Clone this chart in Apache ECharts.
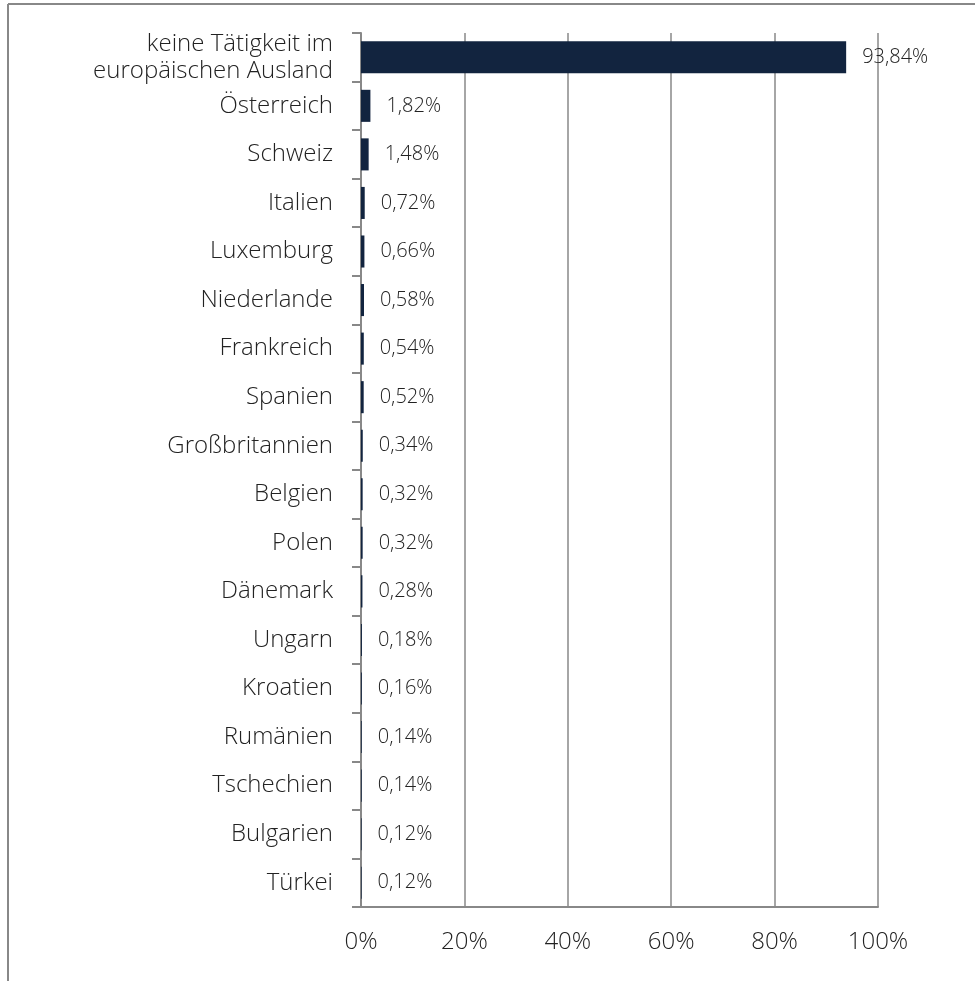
<!DOCTYPE html>
<html>
<head>
<meta charset="utf-8">
<script src="https://cdn.jsdelivr.net/npm/echarts@6/dist/echarts.min.js"></script>
<style>html,body{margin:0;padding:0;background:#fff}#c{width:975px;height:981px}</style>
</head>
<body>
<div id="c"></div>
<script>
const categories = ["keine Tätigkeit im\neuropäischen Ausland","Österreich","Schweiz","Italien","Luxemburg","Niederlande","Frankreich","Spanien","Großbritannien","Belgien","Polen","Dänemark","Ungarn","Kroatien","Rumänien","Tschechien","Bulgarien","Türkei"];
const values = [93.84,1.82,1.48,0.72,0.66,0.58,0.54,0.52,0.34,0.32,0.32,0.28,0.18,0.16,0.14,0.14,0.12,0.12];
const xTicks = [0,20,40,60,80,100];

const chart = echarts.init(document.getElementById('c'), null, {renderer:'canvas'});
const font = '"Open Sans", "Noto Sans", sans-serif';
chart.setOption({
  animation:false,
  backgroundColor:'#fff',
  textStyle:{fontFamily:font},
  graphic:[
    {type:'line', shape:{x1:8,y1:4,x2:975,y2:4}, style:{stroke:'#888',lineWidth:2}},
    {type:'line', shape:{x1:8,y1:4,x2:8,y2:981}, style:{stroke:'#888',lineWidth:2}}
  ],
  grid:{left:361,right:97,top:33,bottom:74,containLabel:false},
  xAxis:{
    type:'value',min:xTicks[0],max:xTicks[xTicks.length-1],interval:20,
    axisLine:{show:true,lineStyle:{color:'#888',width:2}},
    axisTick:{show:false},
    splitLine:{show:true,lineStyle:{color:'#888',width:1.5}},
    axisLabel:{formatter:'{value}%',fontSize:24,color:'#222',margin:23,fontFamily:font,fontWeight:300}
  },
  yAxis:{
    type:'category',data:categories,inverse:true,
    axisLine:{show:true,lineStyle:{color:'#888',width:2}},
    axisTick:{show:true,length:9,interval:0,lineStyle:{color:'#888',width:2}},
    axisLabel:{fontSize:24,color:'#222',margin:28,lineHeight:27,fontFamily:font,fontWeight:300,interval:0}
  },
  series:[{
    type:'bar',data:values,barCategoryGap:'34%',
    itemStyle:{color:'#12243f'},
    label:{show:true,position:'right',distance:16,fontSize:20,color:'#222',fontFamily:font,fontWeight:300,
      formatter:p=>p.value.toFixed(2).replace('.',',')+'%'}
  }]
});
</script>
</body>
</html>
